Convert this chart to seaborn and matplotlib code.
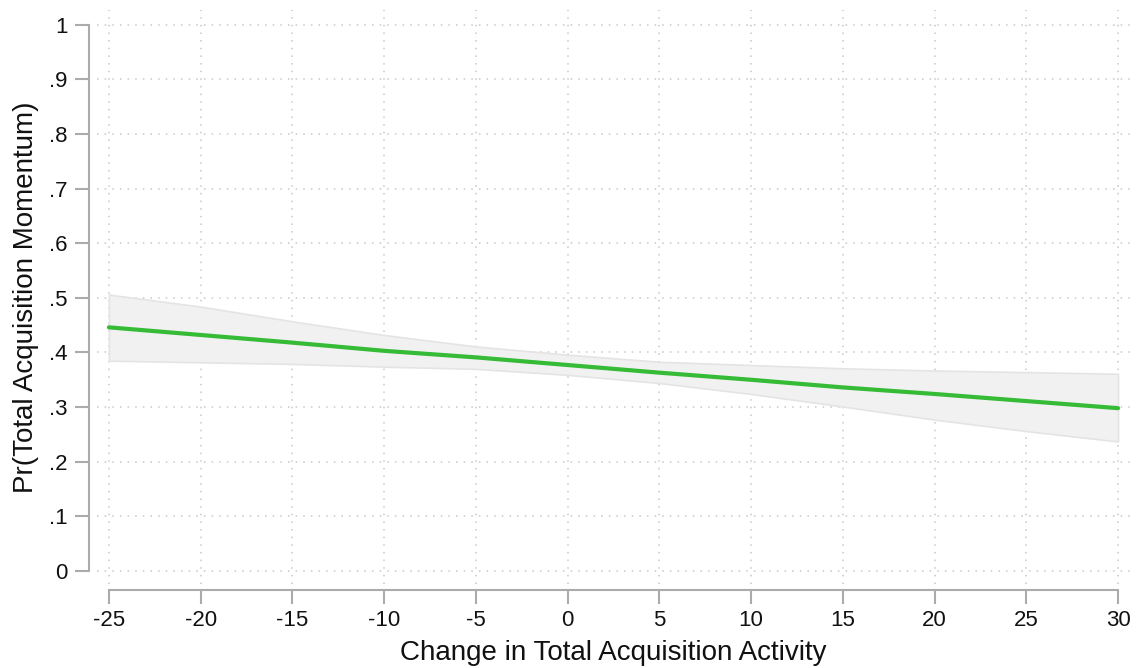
import numpy as np
import matplotlib
matplotlib.use("Agg")
import matplotlib.pyplot as plt
import seaborn as sns
import pandas as pd

# values
change = [-25, -20, -15, -10, -5, 0, 5, 10, 15, 20, 25, 30]
prob = [0.446, 0.432, 0.418, 0.403, 0.391, 0.377, 0.363, 0.350, 0.336, 0.324, 0.311, 0.298]
upper = [0.506, 0.484, 0.457, 0.432, 0.411, 0.396, 0.383, 0.377, 0.371, 0.367, 0.364, 0.361]
lower = [0.385, 0.382, 0.379, 0.374, 0.370, 0.359, 0.344, 0.324, 0.301, 0.277, 0.256, 0.237]

x_ticks = [-25, -20, -15, -10, -5, 0, 5, 10, 15, 20, 25, 30]
y_ticks = [0, 0.1, 0.2, 0.3, 0.4, 0.5, 0.6, 0.7, 0.8, 0.9, 1.0]
y_ticklabels = ["0", ".1", ".2", ".3", ".4", ".5", ".6", ".7", ".8", ".9", "1"]

df = pd.DataFrame({"change": change, "prob": prob, "upper": upper, "lower": lower})

sns.set_style("white")
plt.rcParams["font.family"] = ["Liberation Sans", "DejaVu Sans"]
plt.rcParams["axes.unicode_minus"] = False

fig = plt.figure(figsize=(11.37, 6.68), dpi=100)
ax = fig.add_axes([0.0853, 0.1257, 0.9085, 0.8593])

ax.fill_between(df["change"], df["lower"], df["upper"], color="#f1f1f1",
                edgecolor="#e4e4e4", linewidth=1.2, zorder=2)
sns.lineplot(data=df, x="change", y="prob", ax=ax, color="#35bb35",
             linewidth=3, zorder=3)

ax.set_xlim(-25.65, 30.65)
ax.set_ylim(-0.024, 1.027)
ax.set_xticks(x_ticks)
ax.set_xticklabels([str(t) for t in x_ticks])
ax.set_yticks(y_ticks)
ax.set_yticklabels(y_ticklabels)

ax.grid(True, color="#c8c8c8", linestyle=(0, (1, 4)), linewidth=1.1, zorder=0)

for s in ["top", "right"]:
    ax.spines[s].set_visible(False)
ax.spines["left"].set_position(("outward", 6))
ax.spines["bottom"].set_position(("outward", 4))
ax.spines["left"].set_bounds(0, 1)
ax.spines["bottom"].set_bounds(-25, 30)
for s in ["left", "bottom"]:
    ax.spines[s].set_color("#ababab")
    ax.spines[s].set_linewidth(1.5)

ax.tick_params(axis="both", direction="out", length=10, width=1.5,
               color="#ababab", labelsize=16, labelcolor="#111111", pad=5,
               left=True, bottom=True)

ax.set_xlabel("Change in Total Acquisition Activity", fontsize=20, color="#111111", labelpad=6)
ax.set_ylabel("Pr(Total Acquisition Momentum)", fontsize=20, color="#111111", labelpad=7)

fig.savefig("out.png", dpi=100)
